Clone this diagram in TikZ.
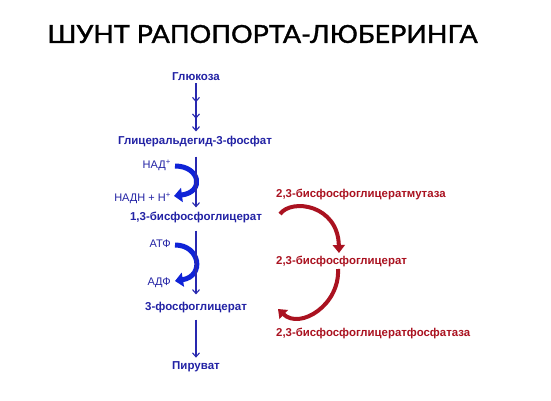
\documentclass[tikz,border=0pt]{standalone}
\usepackage{fontspec}
\setmainfont{Liberation Sans}
\newfontfamily\titlefont[FakeBold=1.3]{Lato}
\usetikzlibrary{arrows.meta,decorations.markings}
\definecolor{tblue}{RGB}{35,35,165}
\definecolor{lblue}{RGB}{40,40,175}
\definecolor{ablue}{RGB}{15,35,215}
\definecolor{tred}{RGB}{170,18,32}
\begin{document}
\begin{tikzpicture}[x=1pt,y=-1pt,
  lbl/.style={font=\fontsize{11.5}{13}\selectfont\bfseries, text=tblue, inner sep=0pt},
  side/.style={font=\fontsize{11}{13}\selectfont, text=tblue, inner sep=0pt, anchor=east},
  rlbl/.style={font=\fontsize{11.4}{13}\selectfont\bfseries, text=tred, inner sep=0pt, anchor=west},
  flow/.style={draw=lblue, line width=1.1pt, -{Straight Barb[length=4pt,width=7pt]}},
  bigblue/.style={draw=ablue, line width=5pt, -{Triangle[length=8pt,width=14pt]}},
  bigred/.style={draw=tred, line width=4pt, -{Triangle[length=8pt,width=12pt]}},
]
\useasboundingbox[fill=white] (0,0) rectangle (551,401);

\node[inner sep=0pt] (title) at (262.5,34) {\resizebox{430pt}{18pt}{\titlefont ШУНТ РАПОПОРТА-ЛЮБЕРИНГА}};

\node[lbl] (glu) at (196,77) {Глюкоза};
\node[lbl] (gap) at (195,142) {Глицеральдегид-3-фосфат};
\node[lbl] (bpg) at (196,217) {1,3-бисфосфоглицерат};
\node[lbl] (pg3) at (196,308) {3-фосфоглицерат};
\node[lbl] (pyr) at (196,367) {Пируват};

\node[side] (nad) at (171,165) {НАД\textsuperscript{+}};
\node[side] (nadh) at (171,198) {НАДН + Н\textsuperscript{+}};
\node[side] (atf) at (171,244) {АТФ};
\node[side] (adf) at (171,283) {АДФ};

\node[rlbl] (mut) at (276,195) {2,3-бисфосфоглицератмутаза};
\node[rlbl] (bpg23) at (276,261) {2,3-бисфосфоглицерат};
\node[rlbl] (fos) at (276,333) {2,3-бисфосфоглицератфосфатаза};

% thick blue side arrows
\draw[bigblue] ([xshift=4pt,yshift=-1pt]nad.east) .. controls +(25,0) and +(31,-4) .. ([xshift=3pt,yshift=2pt]nadh.east);
\draw[bigblue] ([xshift=4pt,yshift=-1pt]atf.east) .. controls +(25,0) and +(30,-5) .. ([xshift=4pt,yshift=2pt]adf.east);

% main flow
\draw[flow, shorten <=2pt, shorten >=5pt,
  postaction={decorate},
  decoration={markings,
    mark=at position 0.38 with {\arrow[lblue]{Straight Barb[length=4pt,width=7pt]}},
    mark=at position 0.68 with {\arrow[lblue]{Straight Barb[length=4pt,width=7pt]}}}]
  (glu.south) -- (glu.south |- gap.north);
\draw[flow, shorten <=9pt, shorten >=4pt] (gap.south -| glu.south) -- (glu.south |- bpg.north);
\draw[flow, shorten <=8pt, shorten >=8pt] (bpg.south -| glu.south) -- (glu.south |- pg3.north);
\draw[flow, shorten <=6pt, shorten >=4pt] (pg3.south -| glu.south) -- (glu.south |- pyr.north);

% red shunt arrows
\coordinate (m1s) at (280,214);
\coordinate (m1e) at (339,253);
\coordinate (m2s) at (338,269);
\coordinate (m2e) at (278,309);
\draw[bigred] (m1s) .. controls (292,198) and (338,205) .. (m1e);
\draw[bigred] (m2s) .. controls (340,305) and (300,330) .. (m2e);
\end{tikzpicture}
\end{document}
